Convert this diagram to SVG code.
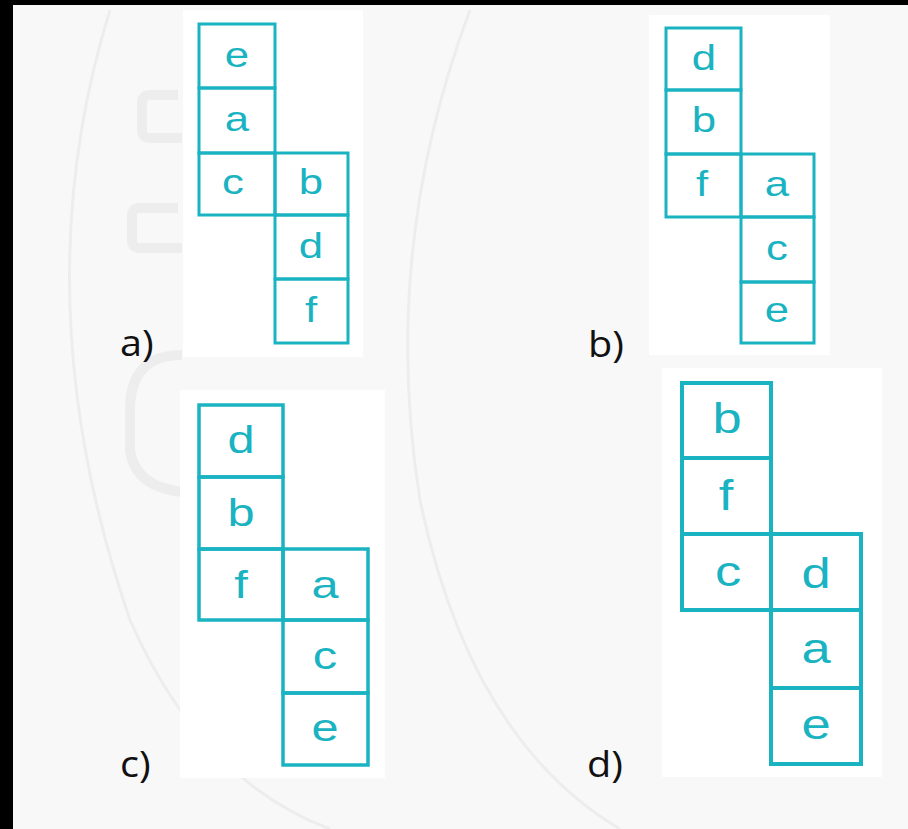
<svg xmlns="http://www.w3.org/2000/svg" width="908" height="829" viewBox="0 0 908 829">
<defs>
<style>
.cell{fill:none;stroke:#1ab3c2;stroke-linejoin:miter}
.lt{font-family:"Liberation Sans",Arial,sans-serif;fill:#1ab3c2;text-anchor:middle}
.lbl{font-family:"Open Sans","DejaVu Sans",sans-serif;font-size:36px;fill:#111}
.wm{fill:none;stroke:#ededed}
</style>
</defs>
<rect x="0" y="0" width="908" height="829" fill="#f8f8f8"/>
<g id="watermark">
<path class="wm" stroke-width="3" d="M110 10 Q20 300 130 620 Q200 780 330 829"/>
<path class="wm" stroke-width="3" d="M470 10 Q380 250 420 500 Q470 740 620 829"/>
<path class="wm" stroke-width="10" d="M178 95 L150 95 Q142 95 142 103 L142 130 Q142 138 150 138 L182 138"/>
<path class="wm" stroke-width="10" d="M178 208 L140 208 Q132 208 132 216 L132 240 Q132 248 140 248 L182 248"/>
<path class="wm" stroke-width="10" d="M182 355 Q130 355 130 410 L130 450 Q135 488 185 492"/>
</g>
<g id="panels" fill="#ffffff">
<rect x="183" y="10" width="180" height="347"/>
<rect x="649" y="15" width="181" height="340"/>
<rect x="180" y="390" width="205" height="388"/>
<rect x="662" y="368" width="220" height="409"/>
</g>
<rect x="0" y="0" width="908" height="5" fill="#000"/>
<rect x="0" y="0" width="13" height="829" fill="#000"/>

<g id="net-a">
<g class="cell" stroke-width="3">
<rect x="199" y="24" width="76" height="64"/>
<rect x="199" y="88" width="76" height="65"/>
<rect x="199" y="153" width="76" height="62"/>
<rect x="275" y="153" width="73" height="62"/>
<rect x="275" y="215" width="73" height="64"/>
<rect x="275" y="279" width="73" height="64"/>
</g>
<g class="lt" font-size="35">
<text transform="translate(237,67) scale(1.25,1)">e</text>
<text transform="translate(237,131) scale(1.25,1)">a</text>
<text transform="translate(233,194) scale(1.25,1)">c</text>
<text transform="translate(311,194) scale(1.25,1)">b</text>
<text transform="translate(311,258) scale(1.25,1)">d</text>
<text transform="translate(311,322) scale(1.25,1)">f</text>
</g>
<text class="lbl" transform="translate(120,356) scale(1.1,1)">a)</text>
</g>

<g id="net-b">
<g class="cell" stroke-width="3">
<rect x="666" y="28" width="75" height="62"/>
<rect x="666" y="90" width="75" height="64"/>
<rect x="666" y="154" width="75" height="63"/>
<rect x="741" y="154" width="73" height="63"/>
<rect x="741" y="217" width="73" height="65"/>
<rect x="741" y="282" width="73" height="61"/>
</g>
<g class="lt" font-size="35">
<text transform="translate(704,70) scale(1.25,1)">d</text>
<text transform="translate(704,132) scale(1.25,1)">b</text>
<text transform="translate(702,196) scale(1.25,1)">f</text>
<text transform="translate(777,196) scale(1.25,1)">a</text>
<text transform="translate(777,260) scale(1.25,1)">c</text>
<text transform="translate(777,322) scale(1.25,1)">e</text>
</g>
<text class="lbl" transform="translate(588,357) scale(1.1,1)">b)</text>
</g>

<g id="net-c">
<g class="cell" stroke-width="3.5">
<rect x="199" y="405" width="84" height="72"/>
<rect x="199" y="477" width="84" height="72"/>
<rect x="199" y="549" width="84" height="71"/>
<rect x="283" y="549" width="85" height="71"/>
<rect x="283" y="620" width="85" height="73"/>
<rect x="283" y="693" width="85" height="72"/>
</g>
<g class="lt" font-size="39">
<text transform="translate(241,453) scale(1.25,1)">d</text>
<text transform="translate(241,526) scale(1.25,1)">b</text>
<text transform="translate(241,598) scale(1.25,1)">f</text>
<text transform="translate(325,598) scale(1.25,1)">a</text>
<text transform="translate(325,669) scale(1.25,1)">c</text>
<text transform="translate(325,741) scale(1.25,1)">e</text>
</g>
<text class="lbl" transform="translate(120,777) scale(1.1,1)">c)</text>
</g>

<g id="net-d">
<g class="cell" stroke-width="4">
<rect x="682" y="383" width="89" height="75"/>
<rect x="682" y="458" width="89" height="76"/>
<rect x="682" y="534" width="89" height="76"/>
<rect x="771" y="534" width="90" height="76"/>
<rect x="771" y="610" width="90" height="78"/>
<rect x="771" y="688" width="90" height="76"/>
</g>
<g class="lt" font-size="42">
<text transform="translate(727,433) scale(1.25,1)">b</text>
<text transform="translate(726,510) scale(1.25,1)">f</text>
<text transform="translate(728,586) scale(1.25,1)">c</text>
<text transform="translate(816,588) scale(1.25,1)">d</text>
<text transform="translate(816,663) scale(1.25,1)">a</text>
<text transform="translate(816,739) scale(1.25,1)">e</text>
</g>
<text class="lbl" transform="translate(587,777) scale(1.1,1)">d)</text>
</g>
</svg>
